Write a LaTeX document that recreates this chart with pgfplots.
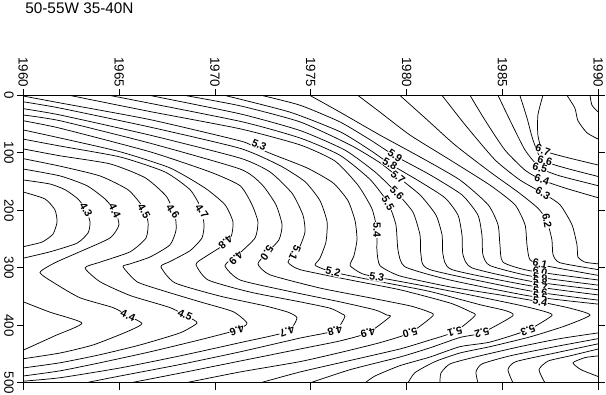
\documentclass[border=0pt]{standalone}
\usepackage{pgfplots}
\pgfplotsset{compat=1.18}
\usepackage{fontspec}
\setmainfont{Liberation Sans}

\begin{document}
\begin{tikzpicture}
\begin{axis}[
  name=ax,
  scale only axis, width=431.25pt, height=215.6pt,
  xmin=1960, xmax=1990, ymin=0, ymax=500, y dir=reverse,
  xtick={1960,1965,...,1990}, ytick={0,100,...,500},
  xticklabel pos=upper, yticklabel pos=left,
  xtick pos=both, ytick pos=both,
  tick align=outside, major tick length=5pt,
  xticklabel style={rotate=-90, anchor=east, inner sep=1pt},
  yticklabel style={rotate=-90, anchor=north, inner sep=2pt},
  tick label style={font=\fontsize{10}{10}\selectfont},
  /pgf/number format/1000 sep={},
  /pgf/number format/assume math mode=true,
  axis line style={black, line width=0.7pt},
  tick style={black, line width=0.7pt},
  contour/.style={black, line width=0.55pt, mark=none, smooth, tension=0.35, line join=round},
  lab/.style={only marks, mark=*, mark size=0.2pt, mark options={draw=none, fill=none},
    point meta=explicit symbolic, nodes near coords,
    every node near coord/.append style={rotate=#1, anchor=center, fill=white, text=black,
      draw=none, inner sep=0.3pt, opacity=1, font=\fontsize{8}{8}\selectfont\bfseries}},
]
% 4.2
\addplot[contour] coordinates {(1960.00,168) (1961.13,180) (1961.65,199) (1961.76,220) (1961.55,241) (1960.98,255) (1960.00,263)};
% 4.3
\addplot[contour] coordinates {(1960.00,147) (1961.39,154) (1962.18,164) (1962.85,180) (1963.27,199) (1963.48,220) (1963.38,239) (1962.80,257) (1961.39,272) (1960.00,283)};
\addplot[contour] coordinates {(1960.00,359) (1961.39,377) (1963.06,396) (1961.65,418) (1960.00,443)};
% 4.4
\addplot[contour] coordinates {(1960.00,128) (1961.92,140) (1963.32,157) (1964.26,180) (1964.78,201) (1964.99,225) (1964.52,248) (1962.80,274) (1961.65,291) (1960.87,308) (1961.65,327) (1962.96,352) (1964.68,369) (1965.46,383) (1966.19,397) (1965.41,411) (1963.64,434) (1961.92,448) (1960.00,458)};
% 4.5
\addplot[contour] coordinates {(1960.00,110) (1961.92,123) (1964.00,140) (1965.46,164) (1966.19,192) (1966.51,220) (1966.40,248) (1965.57,272) (1964.00,290) (1963.22,300) (1964.00,324) (1965.57,348) (1967.65,369) (1968.70,387) (1969.06,396) (1968.18,413) (1966.09,434) (1964.00,451) (1961.92,465) (1960.00,474)};
% 4.6
\addplot[contour] coordinates {(1960.00,93) (1961.92,105) (1964.52,119) (1966.35,143) (1967.45,175) (1967.91,208) (1967.97,234) (1967.65,260) (1966.61,281) (1965.57,293) (1965.20,298) (1965.93,324) (1967.13,338) (1969.22,359) (1970.94,376) (1971.67,396) (1971.15,408) (1969.22,425) (1966.61,446) (1964.00,465) (1961.92,479) (1960.00,488)};
% 4.7
\addplot[contour] coordinates {(1960.00,76) (1961.92,88) (1965.05,107) (1967.39,133) (1968.70,164) (1969.27,196) (1969.43,225) (1969.32,248) (1968.70,270) (1967.65,289) (1967.18,298) (1967.91,326) (1970.26,349) (1972.61,366) (1973.81,377) (1974.28,387) (1973.76,411) (1971.31,430) (1968.18,453) (1965.05,474) (1961.92,491) (1960.00,497)};
% 4.8
\addplot[contour] coordinates {(1960.00,60) (1961.92,74) (1965.05,98) (1967.65,126) (1969.48,161) (1970.52,190) (1970.94,220) (1970.84,246) (1970.37,262) (1969.48,281) (1969.01,294) (1969.64,321) (1971.83,342) (1974.44,359) (1976.00,370) (1976.63,380) (1976.78,385) (1976.26,409) (1974.44,422) (1971.31,446) (1968.18,468) (1965.05,488) (1963.22,500)};
% 4.9
\addplot[contour] coordinates {(1960.00,44) (1961.92,57) (1966.61,98) (1969.74,133) (1971.31,157) (1971.93,190) (1972.24,220) (1972.09,248) (1971.20,277) (1970.52,296) (1971.31,321) (1973.91,341) (1976.52,359) (1978.35,373) (1978.97,382) (1979.13,385) (1977.98,413) (1976.52,427) (1974.44,441) (1971.31,462) (1968.18,483) (1965.57,500)};
% 5.0
\addplot[contour] coordinates {(1960.00,34) (1961.92,44) (1966.61,83) (1971.31,128) (1972.45,155) (1973.18,190) (1973.50,225) (1973.34,251) (1972.71,274) (1972.24,293) (1972.87,312) (1975.48,335) (1978.09,352) (1980.18,366) (1981.12,376) (1981.38,383) (1980.18,413) (1978.61,430) (1976.68,446) (1974.44,463) (1971.31,481) (1968.44,500)};
% 5.1
\addplot[contour] coordinates {(1960.00,23) (1961.92,34) (1966.61,69) (1971.31,109) (1972.87,133) (1974.02,170) (1974.59,208) (1974.70,237) (1974.44,262) (1974.18,274) (1973.81,290) (1974.44,303) (1977.05,321) (1979.65,338) (1982.26,361) (1983.31,376) (1983.57,383) (1982.52,411) (1980.96,428) (1979.65,441) (1977.05,461) (1974.44,481) (1972.35,500)};
% 5.2
\addplot[contour] coordinates {(1960.00,11) (1961.92,22) (1966.61,55) (1971.31,92) (1973.39,122) (1974.70,150) (1975.48,183) (1975.85,220) (1975.79,255) (1975.48,283) (1975.22,295) (1975.74,303) (1976.52,310) (1978.61,324) (1981.22,341) (1983.83,364) (1985.13,374) (1985.55,383) (1983.93,413) (1982.78,421) (1981.22,439) (1979.65,455) (1977.05,477) (1974.96,500)};
% 5.3
\addplot[contour] coordinates {(1960.00,1) (1961.92,13) (1966.61,42) (1971.31,79) (1972.09,90) (1973.13,104) (1974.80,126) (1976.16,152) (1976.94,183) (1977.31,218) (1977.41,251) (1977.25,279) (1977.05,296) (1977.67,310) (1978.45,316) (1980.70,330) (1983.31,347) (1985.91,365) (1987.22,376) (1987.58,383) (1986.33,408) (1984.35,429) (1982.78,437) (1981.22,455) (1979.65,470) (1978.35,488) (1977.83,500)};
% 5.4
\addplot[contour] coordinates {(1962.44,0) (1966.61,28) (1971.31,58) (1974.44,86) (1976.26,114) (1977.46,156) (1978.19,197) (1978.45,234) (1978.45,269) (1978.61,296) (1979.65,314) (1982.26,333) (1984.87,347) (1986.96,359) (1988.52,370) (1989.57,382) (1988.26,401) (1986.44,420) (1984.35,437) (1982.78,448) (1981.48,463) (1980.44,482) (1980.07,500)};
% 5.5
\addplot[contour] coordinates {(1964.52,0) (1971.31,45) (1974.44,74) (1976.52,104) (1978.09,146) (1979.03,187) (1979.44,225) (1979.55,269) (1979.91,298) (1982.26,321) (1986.44,349) (1990.00,363)};
% 5.6
\addplot[contour] coordinates {(1966.61,0) (1971.31,32) (1974.44,61) (1976.78,95) (1978.35,133) (1979.50,170) (1980.33,203) (1980.70,243) (1980.75,277) (1981.22,303) (1986.44,340) (1990.00,356)};
% 5.7
\addplot[contour] coordinates {(1968.44,0) (1971.31,18) (1974.44,46) (1977.05,86) (1978.61,117) (1979.55,142) (1980.70,173) (1981.53,208) (1981.85,243) (1981.90,277) (1982.37,303) (1986.44,331) (1990.00,347)};
% 5.8
\addplot[contour] coordinates {(1970.52,0) (1973.91,29) (1976.52,63) (1978.09,95) (1979.13,119) (1980.70,150) (1982.00,178) (1982.68,208) (1982.89,243) (1982.94,277) (1983.41,300) (1986.44,323) (1990.00,338)};
% 5.9
\addplot[contour] coordinates {(1972.45,0) (1974.44,17) (1976.52,46) (1978.09,77) (1979.39,105) (1981.22,138) (1982.89,173) (1983.72,208) (1983.93,243) (1983.98,277) (1984.35,296) (1986.44,314) (1990.00,330)};
% 6.0
\addplot[contour] coordinates {(1974.96,0) (1976.52,29) (1978.61,69) (1980.70,107) (1982.78,147) (1984.25,190) (1984.77,225) (1984.87,260) (1985.03,290) (1986.44,305) (1990.00,321)};
% 6.1
\addplot[contour] coordinates {(1977.46,0) (1978.61,29) (1980.18,69) (1982.26,112) (1984.35,156) (1985.65,190) (1986.18,225) (1986.28,260) (1986.44,286) (1987.22,296) (1990.00,313)};
% 6.2
\addplot[contour] coordinates {(1979.65,0) (1980.96,39) (1982.52,86) (1984.35,133) (1985.81,168) (1986.85,196) (1987.32,218) (1987.58,251) (1987.64,277) (1988.00,291) (1990.00,303)};
% 6.3
\addplot[contour] coordinates {(1981.85,0) (1983.05,51) (1984.61,112) (1985.91,147) (1987.11,170) (1988.00,190) (1988.63,225) (1988.89,260) (1988.94,281) (1989.31,290) (1990.00,293)};
% 6.4
\addplot[contour] coordinates {(1983.31,0) (1984.09,43) (1985.13,95) (1986.18,130) (1987.06,147) (1988.26,161) (1990.00,178)};
% 6.5
\addplot[contour] coordinates {(1984.77,0) (1985.39,43) (1986.18,95) (1986.96,126) (1988.00,140) (1990.00,157)};
% 6.6
\addplot[contour] coordinates {(1985.91,0) (1986.28,39) (1986.59,77) (1987.06,112) (1988.26,126) (1990.00,141)};
% 6.7
\addplot[contour] coordinates {(1987.11,0) (1986.85,34) (1986.85,69) (1987.11,95) (1988.26,107) (1990.00,121)};
% 6.8
\addplot[contour] coordinates {(1988.37,0) (1988.78,22) (1988.94,44) (1989.41,65) (1990.00,76)};
% 6.9
\addplot[contour] coordinates {(1989.57,0) (1989.67,17) (1990.00,29)};
% deep lines, lower right
\addplot[contour] coordinates {(1981.74,500) (1981.79,483) (1982.26,467) (1983.57,455) (1985.91,437) (1988.00,423) (1990.00,413)};
\addplot[contour] coordinates {(1983.72,500) (1983.62,481) (1983.93,467) (1985.39,453) (1987.74,437) (1990.00,423)};
\addplot[contour] coordinates {(1985.55,500) (1985.29,477) (1985.70,463) (1987.74,448) (1990.00,432)};
\addplot[contour] coordinates {(1987.22,500) (1986.91,477) (1987.38,462) (1988.52,453) (1990.00,441)};
\addplot[contour] coordinates {(1990.00,453) (1989.31,456) (1988.68,465) (1989.10,477) (1990.00,489)};
% contour labels
\addplot[lab=-60] coordinates {(1963.27,199)[4.3]};
\addplot[lab=-65] coordinates {(1964.78,201)[4.4]};
\addplot[lab=-60] coordinates {(1966.30,201)[4.5]};
\addplot[lab=-55] coordinates {(1967.81,201)[4.6]};
\addplot[lab=-55] coordinates {(1969.32,201)[4.7]};
\addplot[lab=220] coordinates {(1970.55,255)[4.8]};
\addplot[lab=225] coordinates {(1971.10,283)[4.9]};
\addplot[lab=235] coordinates {(1972.71,274)[5.0]};
\addplot[lab=245] coordinates {(1974.18,274)[5.1]};
\addplot[lab=-15] coordinates {(1976.16,307)[5.2]};
\addplot[lab=-10] coordinates {(1978.45,316)[5.3]};
\addplot[lab=-25] coordinates {(1972.30,86)[5.3]};
\addplot[lab=-90] coordinates {(1978.45,234)[5.4]};
\addplot[lab=-60] coordinates {(1979.03,187)[5.5]};
\addplot[lab=-45] coordinates {(1979.50,170)[5.6]};
\addplot[lab=-40] coordinates {(1979.55,142)[5.7]};
\addplot[lab=-30] coordinates {(1979.13,119)[5.8]};
\addplot[lab=-35] coordinates {(1979.39,105)[5.9]};
\addplot[lab=-20] coordinates {(1987.11,95)[6.7]};
\addplot[lab=-15] coordinates {(1987.22,114)[6.6]};
\addplot[lab=-15] coordinates {(1986.96,126)[6.5]};
\addplot[lab=-20] coordinates {(1987.06,147)[6.4]};
\addplot[lab=-30] coordinates {(1987.11,170)[6.3]};
\addplot[lab=-80] coordinates {(1987.32,218)[6.2]};
\addplot[lab=-12] coordinates {(1986.96,293)[6.1] (1986.96,307)[6.0] (1986.96,316)[5.9] (1986.96,324)[5.8] (1986.96,333)[5.7] (1986.96,341)[5.6] (1986.96,350)[5.5] (1986.96,359)[5.4]};
\addplot[lab=-25] coordinates {(1965.46,383)[4.4] (1968.44,382)[4.5]};
\addplot[lab=200] coordinates {(1971.15,408)[4.6] (1973.76,411)[4.7] (1986.33,408)[5.3]};
\addplot[lab=195] coordinates {(1976.26,409)[4.8] (1977.98,413)[4.9] (1980.18,413)[5.0] (1982.52,411)[5.1] (1983.93,413)[5.2]};
\end{axis}
\pgfresetboundingbox
\path[use as bounding box] ([xshift=-17.5pt,yshift=-9pt]ax.south west) rectangle ([xshift=5.8pt,yshift=71.6pt]ax.north east);
\node[anchor=base west, font=\fontsize{11.5}{13}\selectfont, inner sep=0pt] at ([xshift=1.3pt,yshift=61.5pt]ax.north west) {50-55W 35-40N};
\end{tikzpicture}
\end{document}
